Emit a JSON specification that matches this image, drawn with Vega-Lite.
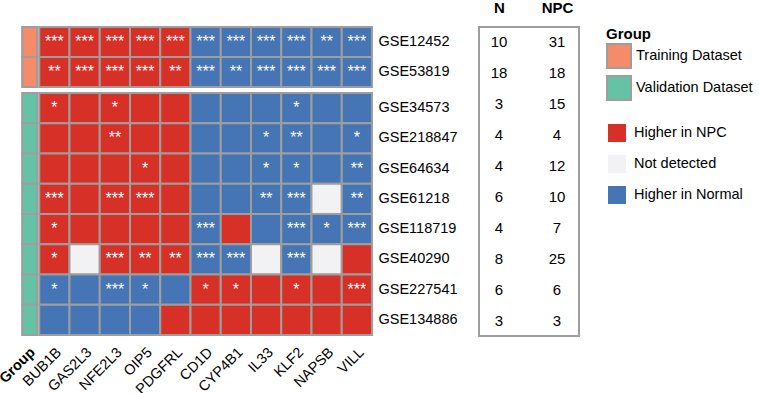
{
  "$schema": "https://vega.github.io/schema/vega-lite/v6.json",
  "padding": {"left": -4, "top": -1, "right": 5, "bottom": 0},
  "spacing": 0,
  "config": {
    "font": "Liberation Sans",
    "view": {"stroke": null},
    "axis": {"labelFont": "Liberation Sans", "labelFontSize": 14.5, "labelColor": "black", "ticks": false, "domain": false, "grid": false},
    "legend": {"labelFont": "Liberation Sans", "labelFontSize": 14.5, "labelColor": "black", "titleFont": "Liberation Sans", "titleColor": "black"}
  },
  "datasets": {
    "table": [
      {"dataset": "GSE12452", "group": "Training Dataset", "N": 10, "NPC": 31},
      {"dataset": "GSE53819", "group": "Training Dataset", "N": 18, "NPC": 18},
      {"dataset": "GSE34573", "group": "Validation Dataset", "N": 3, "NPC": 15},
      {"dataset": "GSE218847", "group": "Validation Dataset", "N": 4, "NPC": 4},
      {"dataset": "GSE64634", "group": "Validation Dataset", "N": 4, "NPC": 12},
      {"dataset": "GSE61218", "group": "Validation Dataset", "N": 6, "NPC": 10},
      {"dataset": "GSE118719", "group": "Validation Dataset", "N": 4, "NPC": 7},
      {"dataset": "GSE40290", "group": "Validation Dataset", "N": 8, "NPC": 25},
      {"dataset": "GSE227541", "group": "Validation Dataset", "N": 6, "NPC": 6},
      {"dataset": "GSE134886", "group": "Validation Dataset", "N": 3, "NPC": 3}
    ],
    "cells": [
      {"dataset": "GSE12452", "gene": "BUB1B", "status": "Higher in NPC", "sig": "***"},
      {"dataset": "GSE12452", "gene": "GAS2L3", "status": "Higher in NPC", "sig": "***"},
      {"dataset": "GSE12452", "gene": "NFE2L3", "status": "Higher in NPC", "sig": "***"},
      {"dataset": "GSE12452", "gene": "OIP5", "status": "Higher in NPC", "sig": "***"},
      {"dataset": "GSE12452", "gene": "PDGFRL", "status": "Higher in NPC", "sig": "***"},
      {"dataset": "GSE12452", "gene": "CD1D", "status": "Higher in Normal", "sig": "***"},
      {"dataset": "GSE12452", "gene": "CYP4B1", "status": "Higher in Normal", "sig": "***"},
      {"dataset": "GSE12452", "gene": "IL33", "status": "Higher in Normal", "sig": "***"},
      {"dataset": "GSE12452", "gene": "KLF2", "status": "Higher in Normal", "sig": "***"},
      {"dataset": "GSE12452", "gene": "NAPSB", "status": "Higher in Normal", "sig": "**"},
      {"dataset": "GSE12452", "gene": "VILL", "status": "Higher in Normal", "sig": "***"},
      {"dataset": "GSE53819", "gene": "BUB1B", "status": "Higher in NPC", "sig": "**"},
      {"dataset": "GSE53819", "gene": "GAS2L3", "status": "Higher in NPC", "sig": "***"},
      {"dataset": "GSE53819", "gene": "NFE2L3", "status": "Higher in NPC", "sig": "***"},
      {"dataset": "GSE53819", "gene": "OIP5", "status": "Higher in NPC", "sig": "***"},
      {"dataset": "GSE53819", "gene": "PDGFRL", "status": "Higher in NPC", "sig": "**"},
      {"dataset": "GSE53819", "gene": "CD1D", "status": "Higher in Normal", "sig": "***"},
      {"dataset": "GSE53819", "gene": "CYP4B1", "status": "Higher in Normal", "sig": "**"},
      {"dataset": "GSE53819", "gene": "IL33", "status": "Higher in Normal", "sig": "***"},
      {"dataset": "GSE53819", "gene": "KLF2", "status": "Higher in Normal", "sig": "***"},
      {"dataset": "GSE53819", "gene": "NAPSB", "status": "Higher in Normal", "sig": "***"},
      {"dataset": "GSE53819", "gene": "VILL", "status": "Higher in Normal", "sig": "***"},
      {"dataset": "GSE34573", "gene": "BUB1B", "status": "Higher in NPC", "sig": "*"},
      {"dataset": "GSE34573", "gene": "GAS2L3", "status": "Higher in NPC", "sig": ""},
      {"dataset": "GSE34573", "gene": "NFE2L3", "status": "Higher in NPC", "sig": "*"},
      {"dataset": "GSE34573", "gene": "OIP5", "status": "Higher in NPC", "sig": ""},
      {"dataset": "GSE34573", "gene": "PDGFRL", "status": "Higher in NPC", "sig": ""},
      {"dataset": "GSE34573", "gene": "CD1D", "status": "Higher in Normal", "sig": ""},
      {"dataset": "GSE34573", "gene": "CYP4B1", "status": "Higher in Normal", "sig": ""},
      {"dataset": "GSE34573", "gene": "IL33", "status": "Higher in Normal", "sig": ""},
      {"dataset": "GSE34573", "gene": "KLF2", "status": "Higher in Normal", "sig": "*"},
      {"dataset": "GSE34573", "gene": "NAPSB", "status": "Higher in Normal", "sig": ""},
      {"dataset": "GSE34573", "gene": "VILL", "status": "Higher in Normal", "sig": ""},
      {"dataset": "GSE218847", "gene": "BUB1B", "status": "Higher in NPC", "sig": ""},
      {"dataset": "GSE218847", "gene": "GAS2L3", "status": "Higher in NPC", "sig": ""},
      {"dataset": "GSE218847", "gene": "NFE2L3", "status": "Higher in NPC", "sig": "**"},
      {"dataset": "GSE218847", "gene": "OIP5", "status": "Higher in NPC", "sig": ""},
      {"dataset": "GSE218847", "gene": "PDGFRL", "status": "Higher in NPC", "sig": ""},
      {"dataset": "GSE218847", "gene": "CD1D", "status": "Higher in Normal", "sig": ""},
      {"dataset": "GSE218847", "gene": "CYP4B1", "status": "Higher in Normal", "sig": ""},
      {"dataset": "GSE218847", "gene": "IL33", "status": "Higher in Normal", "sig": "*"},
      {"dataset": "GSE218847", "gene": "KLF2", "status": "Higher in Normal", "sig": "**"},
      {"dataset": "GSE218847", "gene": "NAPSB", "status": "Higher in Normal", "sig": ""},
      {"dataset": "GSE218847", "gene": "VILL", "status": "Higher in Normal", "sig": "*"},
      {"dataset": "GSE64634", "gene": "BUB1B", "status": "Higher in NPC", "sig": ""},
      {"dataset": "GSE64634", "gene": "GAS2L3", "status": "Higher in NPC", "sig": ""},
      {"dataset": "GSE64634", "gene": "NFE2L3", "status": "Higher in NPC", "sig": ""},
      {"dataset": "GSE64634", "gene": "OIP5", "status": "Higher in NPC", "sig": "*"},
      {"dataset": "GSE64634", "gene": "PDGFRL", "status": "Higher in NPC", "sig": ""},
      {"dataset": "GSE64634", "gene": "CD1D", "status": "Higher in Normal", "sig": ""},
      {"dataset": "GSE64634", "gene": "CYP4B1", "status": "Higher in Normal", "sig": ""},
      {"dataset": "GSE64634", "gene": "IL33", "status": "Higher in Normal", "sig": "*"},
      {"dataset": "GSE64634", "gene": "KLF2", "status": "Higher in Normal", "sig": "*"},
      {"dataset": "GSE64634", "gene": "NAPSB", "status": "Higher in Normal", "sig": ""},
      {"dataset": "GSE64634", "gene": "VILL", "status": "Higher in Normal", "sig": "**"},
      {"dataset": "GSE61218", "gene": "BUB1B", "status": "Higher in NPC", "sig": "***"},
      {"dataset": "GSE61218", "gene": "GAS2L3", "status": "Higher in NPC", "sig": ""},
      {"dataset": "GSE61218", "gene": "NFE2L3", "status": "Higher in NPC", "sig": "***"},
      {"dataset": "GSE61218", "gene": "OIP5", "status": "Higher in NPC", "sig": "***"},
      {"dataset": "GSE61218", "gene": "PDGFRL", "status": "Higher in NPC", "sig": ""},
      {"dataset": "GSE61218", "gene": "CD1D", "status": "Higher in Normal", "sig": ""},
      {"dataset": "GSE61218", "gene": "CYP4B1", "status": "Higher in Normal", "sig": ""},
      {"dataset": "GSE61218", "gene": "IL33", "status": "Higher in Normal", "sig": "**"},
      {"dataset": "GSE61218", "gene": "KLF2", "status": "Higher in Normal", "sig": "***"},
      {"dataset": "GSE61218", "gene": "NAPSB", "status": "Not detected", "sig": ""},
      {"dataset": "GSE61218", "gene": "VILL", "status": "Higher in Normal", "sig": "**"},
      {"dataset": "GSE118719", "gene": "BUB1B", "status": "Higher in NPC", "sig": "*"},
      {"dataset": "GSE118719", "gene": "GAS2L3", "status": "Higher in NPC", "sig": ""},
      {"dataset": "GSE118719", "gene": "NFE2L3", "status": "Higher in NPC", "sig": ""},
      {"dataset": "GSE118719", "gene": "OIP5", "status": "Higher in NPC", "sig": ""},
      {"dataset": "GSE118719", "gene": "PDGFRL", "status": "Higher in NPC", "sig": ""},
      {"dataset": "GSE118719", "gene": "CD1D", "status": "Higher in Normal", "sig": "***"},
      {"dataset": "GSE118719", "gene": "CYP4B1", "status": "Higher in NPC", "sig": ""},
      {"dataset": "GSE118719", "gene": "IL33", "status": "Higher in Normal", "sig": ""},
      {"dataset": "GSE118719", "gene": "KLF2", "status": "Higher in Normal", "sig": "***"},
      {"dataset": "GSE118719", "gene": "NAPSB", "status": "Higher in Normal", "sig": "*"},
      {"dataset": "GSE118719", "gene": "VILL", "status": "Higher in Normal", "sig": "***"},
      {"dataset": "GSE40290", "gene": "BUB1B", "status": "Higher in NPC", "sig": "*"},
      {"dataset": "GSE40290", "gene": "GAS2L3", "status": "Not detected", "sig": ""},
      {"dataset": "GSE40290", "gene": "NFE2L3", "status": "Higher in NPC", "sig": "***"},
      {"dataset": "GSE40290", "gene": "OIP5", "status": "Higher in NPC", "sig": "**"},
      {"dataset": "GSE40290", "gene": "PDGFRL", "status": "Higher in NPC", "sig": "**"},
      {"dataset": "GSE40290", "gene": "CD1D", "status": "Higher in Normal", "sig": "***"},
      {"dataset": "GSE40290", "gene": "CYP4B1", "status": "Higher in Normal", "sig": "***"},
      {"dataset": "GSE40290", "gene": "IL33", "status": "Not detected", "sig": ""},
      {"dataset": "GSE40290", "gene": "KLF2", "status": "Higher in Normal", "sig": "***"},
      {"dataset": "GSE40290", "gene": "NAPSB", "status": "Not detected", "sig": ""},
      {"dataset": "GSE40290", "gene": "VILL", "status": "Higher in NPC", "sig": ""},
      {"dataset": "GSE227541", "gene": "BUB1B", "status": "Higher in Normal", "sig": "*"},
      {"dataset": "GSE227541", "gene": "GAS2L3", "status": "Higher in Normal", "sig": ""},
      {"dataset": "GSE227541", "gene": "NFE2L3", "status": "Higher in Normal", "sig": "***"},
      {"dataset": "GSE227541", "gene": "OIP5", "status": "Higher in Normal", "sig": "*"},
      {"dataset": "GSE227541", "gene": "PDGFRL", "status": "Higher in Normal", "sig": ""},
      {"dataset": "GSE227541", "gene": "CD1D", "status": "Higher in NPC", "sig": "*"},
      {"dataset": "GSE227541", "gene": "CYP4B1", "status": "Higher in NPC", "sig": "*"},
      {"dataset": "GSE227541", "gene": "IL33", "status": "Higher in NPC", "sig": ""},
      {"dataset": "GSE227541", "gene": "KLF2", "status": "Higher in NPC", "sig": "*"},
      {"dataset": "GSE227541", "gene": "NAPSB", "status": "Higher in NPC", "sig": ""},
      {"dataset": "GSE227541", "gene": "VILL", "status": "Higher in NPC", "sig": "***"},
      {"dataset": "GSE134886", "gene": "BUB1B", "status": "Higher in Normal", "sig": ""},
      {"dataset": "GSE134886", "gene": "GAS2L3", "status": "Higher in Normal", "sig": ""},
      {"dataset": "GSE134886", "gene": "NFE2L3", "status": "Higher in Normal", "sig": ""},
      {"dataset": "GSE134886", "gene": "OIP5", "status": "Higher in Normal", "sig": ""},
      {"dataset": "GSE134886", "gene": "PDGFRL", "status": "Higher in NPC", "sig": ""},
      {"dataset": "GSE134886", "gene": "CD1D", "status": "Higher in NPC", "sig": ""},
      {"dataset": "GSE134886", "gene": "CYP4B1", "status": "Higher in NPC", "sig": ""},
      {"dataset": "GSE134886", "gene": "IL33", "status": "Higher in NPC", "sig": ""},
      {"dataset": "GSE134886", "gene": "KLF2", "status": "Higher in NPC", "sig": ""},
      {"dataset": "GSE134886", "gene": "NAPSB", "status": "Higher in NPC", "sig": ""},
      {"dataset": "GSE134886", "gene": "VILL", "status": "Higher in NPC", "sig": ""}
    ]
  },
  "hconcat": [
    {
      "spacing": 4,
      "vconcat": [
        {
          "width": 363, "height": 60,
          "encoding": {
            "y": {"field": "dataset", "type": "nominal", "sort": ["GSE12452", "GSE53819"], "axis": {"title": null, "orient": "right", "labelPadding": 6, "minExtent": 106, "maxExtent": 106}}
          },
          "layer": [
            {
              "data": {"name": "table"},
              "transform": [{"filter": {"field": "group", "equal": "Training Dataset"}}],
              "mark": {"type": "rect", "stroke": "#9E9E9E", "strokeWidth": 2, "width": {"band": 0.5}, "xOffset": 5.6},
              "encoding": {
                "x": {"datum": "Group", "type": "nominal", "scale": {"domain": ["Group", "BUB1B", "GAS2L3", "NFE2L3", "OIP5", "PDGFRL", "CD1D", "CYP4B1", "IL33", "KLF2", "NAPSB", "VILL"]}, "axis": null},
                "color": {"field": "group", "type": "nominal", "title": "Group",
                  "scale": {"domain": ["Training Dataset", "Validation Dataset"], "range": ["#F58B68", "#66C2A5"]},
                  "legend": {"orient": "none", "legendX": 597, "legendY": 0, "symbolType": "square", "symbolSize": 576, "symbolStrokeColor": "#9E9E9E", "symbolStrokeWidth": 2, "rowPadding": 0, "titleFontSize": 15, "titleFontWeight": "bold", "titlePadding": 1, "labelOffset": 4}}
              }
            },
            {
              "data": {"name": "cells"},
              "transform": [{"filter": {"field": "dataset", "oneOf": ["GSE12452", "GSE53819"]}}],
              "mark": {"type": "rect", "stroke": "#9E9E9E", "strokeWidth": 2},
              "encoding": {
                "x": {"field": "gene", "type": "nominal", "scale": {"domain": ["Group", "BUB1B", "GAS2L3", "NFE2L3", "OIP5", "PDGFRL", "CD1D", "CYP4B1", "IL33", "KLF2", "NAPSB", "VILL"]}, "axis": null},
                "fill": {"field": "status", "type": "nominal",
                  "scale": {"domain": ["Higher in NPC", "Not detected", "Higher in Normal"], "range": ["#D73027", "#F2F2F5", "#4575B4"]},
                  "legend": {"orient": "none", "legendX": 599, "legendY": 97, "title": null, "symbolType": "square", "symbolSize": 324, "symbolStrokeWidth": 0, "rowPadding": 13, "labelOffset": 8}}
              }
            },
            {
              "data": {"name": "cells"},
              "transform": [{"filter": {"field": "dataset", "oneOf": ["GSE12452", "GSE53819"]}}],
              "mark": {"type": "text", "color": "white", "fontSize": 16, "baseline": "middle"},
              "encoding": {
                "x": {"field": "gene", "type": "nominal", "scale": {"domain": ["Group", "BUB1B", "GAS2L3", "NFE2L3", "OIP5", "PDGFRL", "CD1D", "CYP4B1", "IL33", "KLF2", "NAPSB", "VILL"]}, "axis": null},
                "text": {"field": "sig"}
              }
            }
          ]
        },
        {
          "width": 363, "height": 242,
          "encoding": {
            "y": {"field": "dataset", "type": "nominal", "sort": ["GSE34573", "GSE218847", "GSE64634", "GSE61218", "GSE118719", "GSE40290", "GSE227541", "GSE134886"], "axis": {"title": null, "orient": "right", "labelPadding": 6, "minExtent": 106, "maxExtent": 106}}
          },
          "layer": [
            {
              "data": {"name": "table"},
              "transform": [{"filter": {"field": "group", "equal": "Validation Dataset"}}],
              "mark": {"type": "rect", "stroke": "#9E9E9E", "strokeWidth": 2, "width": {"band": 0.5}, "xOffset": 5.6},
              "encoding": {
                "x": {"datum": "Group", "type": "nominal", "scale": {"domain": ["Group", "BUB1B", "GAS2L3", "NFE2L3", "OIP5", "PDGFRL", "CD1D", "CYP4B1", "IL33", "KLF2", "NAPSB", "VILL"]},
                  "axis": {"title": null, "labelAngle": -45, "labelPadding": 10, "labelOffset": {"condition": {"test": "datum.value === 'Group'", "value": 4}, "value": 0}, "labelFontWeight": {"condition": {"test": "datum.value === 'Group'", "value": "bold"}, "value": "normal"}}},
                "color": {"field": "group", "type": "nominal", "title": "Group"}
              }
            },
            {
              "data": {"name": "cells"},
              "transform": [{"filter": {"not": {"field": "dataset", "oneOf": ["GSE12452", "GSE53819"]}}}],
              "mark": {"type": "rect", "stroke": "#9E9E9E", "strokeWidth": 2},
              "encoding": {
                "x": {"field": "gene", "type": "nominal", "scale": {"domain": ["Group", "BUB1B", "GAS2L3", "NFE2L3", "OIP5", "PDGFRL", "CD1D", "CYP4B1", "IL33", "KLF2", "NAPSB", "VILL"]},
                  "axis": {"title": null, "labelAngle": -45, "labelPadding": 10, "labelOffset": {"condition": {"test": "datum.value === 'Group'", "value": 4}, "value": 0}, "labelFontWeight": {"condition": {"test": "datum.value === 'Group'", "value": "bold"}, "value": "normal"}}},
                "fill": {"field": "status", "type": "nominal"}
              }
            },
            {
              "data": {"name": "cells"},
              "transform": [{"filter": {"not": {"field": "dataset", "oneOf": ["GSE12452", "GSE53819"]}}}],
              "mark": {"type": "text", "color": "white", "fontSize": 16, "baseline": "middle"},
              "encoding": {
                "x": {"field": "gene", "type": "nominal", "scale": {"domain": ["Group", "BUB1B", "GAS2L3", "NFE2L3", "OIP5", "PDGFRL", "CD1D", "CYP4B1", "IL33", "KLF2", "NAPSB", "VILL"]},
                  "axis": {"title": null, "labelAngle": -45, "labelPadding": 10, "labelOffset": {"condition": {"test": "datum.value === 'Group'", "value": 4}, "value": 0}, "labelFontWeight": {"condition": {"test": "datum.value === 'Group'", "value": "bold"}, "value": "normal"}}},
                "text": {"field": "sig"}
              }
            }
          ]
        }
      ]
    },
    {
      "width": 100, "height": 309,
      "data": {"name": "table"},
      "view": {"stroke": "#9E9E9E", "strokeWidth": 2},
      "transform": [{"fold": ["N", "NPC"], "as": ["col", "count"]}],
      "mark": {"type": "text", "fontSize": 15, "color": "black", "baseline": "middle"},
      "encoding": {
        "x": {"field": "col", "type": "nominal", "sort": ["N", "NPC"], "scale": {"range": [-9, 107]}, "axis": {"title": null, "orient": "top", "labelAngle": 0, "labelFontWeight": "bold", "labelFontSize": 15, "labelPadding": 12}},
        "y": {"field": "dataset", "type": "nominal", "sort": ["GSE12452", "GSE53819", "GSE34573", "GSE218847", "GSE64634", "GSE61218", "GSE118719", "GSE40290", "GSE227541", "GSE134886"], "axis": null},
        "text": {"field": "count", "type": "quantitative"}
      }
    }
  ]
}
